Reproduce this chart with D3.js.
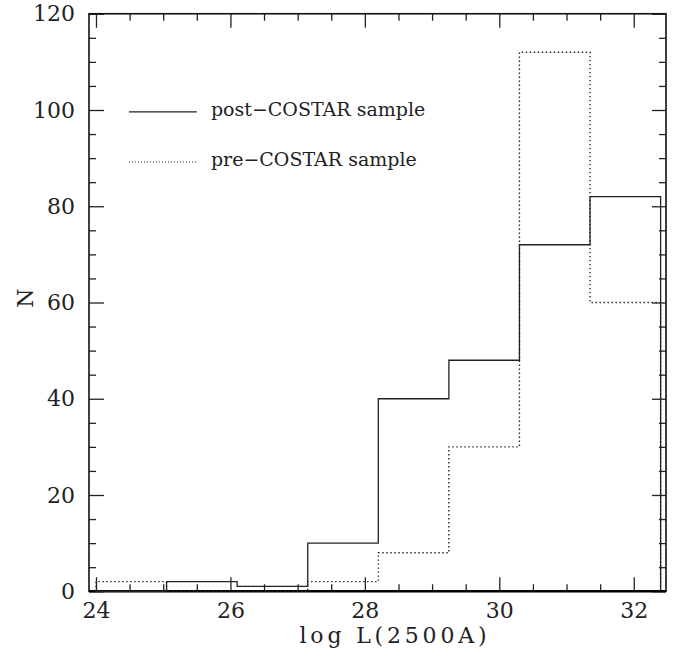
<!DOCTYPE html>
<meta charset="utf-8">
<title>log L(2500A) histogram</title>
<script src="https://d3js.org/d3.v7.min.js"></script>
<style>
  body { margin: 0; background: #fff; }
  text { font-family: "DejaVu Serif", serif; fill: #222; }
</style>
<body>
<script>

// histogram bins (log L(2500A)) and counts
var binEdges = [24, 25.05, 26.1, 27.15, 28.2, 29.25, 30.3, 31.35, 32.4];
var postCounts = [0, 2, 1, 10, 40, 48, 72, 82];
var preCounts  = [2, 0, 0, 2, 8, 30, 112, 60];

var seriesNames = ["post\u2212COSTAR sample", "pre\u2212COSTAR sample"];
var xMajor = [24, 26, 28, 30, 32];
var yMajor = [0, 20, 40, 60, 80, 100, 120];

var w = 681, h = 658;
var pLeft = 89, pRight = 666, pTop = 13.75, pBottom = 591.25;

var svg = d3.select("body").append("svg")
    .attr("width", w)
    .attr("height", h);

var x = d3.scaleLinear().domain([23.896, 32.48]).range([pLeft, pRight]);
var y = d3.scaleLinear().domain([0, 120]).range([pBottom, pTop]);

var xMinor = d3.range(24, 32.5, 0.5).filter(function(v) { return xMajor.indexOf(v) < 0; });
var yMinor = d3.range(0, 121, 5).filter(function(v) { return yMajor.indexOf(v) < 0; });

function tickStyle(g) {
  g.select(".domain").remove();
  g.selectAll(".tick line").attr("stroke", "#222").attr("stroke-width", 1.3);
  g.selectAll(".tick text").style("font-size", "22px").attr("fill", "#222");
}

// bottom axis
svg.append("g").attr("transform", "translate(0," + pBottom + ")")
  .call(d3.axisBottom(x).tickValues(xMajor).tickSize(-14).tickPadding(11).tickFormat(d3.format("d")))
  .call(tickStyle);
svg.append("g").attr("transform", "translate(0," + pBottom + ")")
  .call(d3.axisBottom(x).tickValues(xMinor).tickSize(-7).tickFormat(""))
  .call(tickStyle);
// top axis
svg.append("g").attr("transform", "translate(0," + pTop + ")")
  .call(d3.axisTop(x).tickValues(xMajor).tickSize(-14).tickFormat(""))
  .call(tickStyle);
svg.append("g").attr("transform", "translate(0," + pTop + ")")
  .call(d3.axisTop(x).tickValues(xMinor).tickSize(-7).tickFormat(""))
  .call(tickStyle);
// left axis
svg.append("g").attr("transform", "translate(" + pLeft + ",0)")
  .call(d3.axisLeft(y).tickValues(yMajor).tickSize(-15).tickPadding(14).tickFormat(d3.format("d")))
  .call(tickStyle);
svg.append("g").attr("transform", "translate(" + pLeft + ",0)")
  .call(d3.axisLeft(y).tickValues(yMinor).tickSize(-7).tickFormat(""))
  .call(tickStyle);
// right axis
svg.append("g").attr("transform", "translate(" + pRight + ",0)")
  .call(d3.axisRight(y).tickValues(yMajor).tickSize(-14).tickFormat(""))
  .call(tickStyle);
svg.append("g").attr("transform", "translate(" + pRight + ",0)")
  .call(d3.axisRight(y).tickValues(yMinor).tickSize(-7).tickFormat(""))
  .call(tickStyle);

// frame
svg.append("rect")
  .attr("x", pLeft).attr("y", pTop)
  .attr("width", pRight - pLeft).attr("height", pBottom - pTop)
  .attr("fill", "none").attr("stroke", "#111").attr("stroke-width", 1.6);
svg.append("line")
  .attr("x1", pLeft).attr("x2", pRight).attr("y1", pBottom).attr("y2", pBottom)
  .attr("stroke", "#000").attr("stroke-width", 2.4);

// step histograms
function stepPoints(counts) {
  var pts = [[binEdges[0], 0]];
  counts.forEach(function(c, i) { pts.push([binEdges[i], c]); });
  pts.push([binEdges[binEdges.length - 1], counts[counts.length - 1]]);
  pts.push([binEdges[binEdges.length - 1], 0]);
  return pts;
}
var line = d3.line()
  .x(function(d) { return x(d[0]); })
  .y(function(d) { return y(d[1]); })
  .curve(d3.curveStepAfter);

svg.append("path")
  .attr("d", line(stepPoints(preCounts)))
  .attr("fill", "none").attr("stroke", "#222").attr("stroke-width", 1.4)
  .attr("stroke-dasharray", "1.4,2.6");
svg.append("path")
  .attr("d", line(stepPoints(postCounts)))
  .attr("fill", "none").attr("stroke", "#222").attr("stroke-width", 1.3);

// legend
var legendRows = [99.6, 89.2];
seriesNames.forEach(function(name, i) {
  svg.append("line")
    .attr("x1", x(24.49)).attr("x2", x(25.5))
    .attr("y1", y(legendRows[i])).attr("y2", y(legendRows[i]))
    .attr("stroke", "#222").attr("stroke-width", i === 0 ? 1.3 : 1.2)
    .attr("stroke-dasharray", i === 0 ? null : "1,2");
  svg.append("text")
    .attr("x", x(25.71)).attr("y", y(legendRows[i]) + 4)
    .style("font-size", "19px")
    .text(name);
});

// axis labels
svg.append("text")
  .attr("x", 393).attr("y", 643)
  .attr("text-anchor", "middle")
  .attr("textLength", 187)
  .attr("lengthAdjust", "spacing")
  .style("font-size", "22px")
  .text("log L(2500A)");
svg.append("text")
  .attr("transform", "translate(33,298) rotate(-90)")
  .attr("text-anchor", "middle")
  .style("font-size", "22px")
  .text("N");

</script>
</body>
